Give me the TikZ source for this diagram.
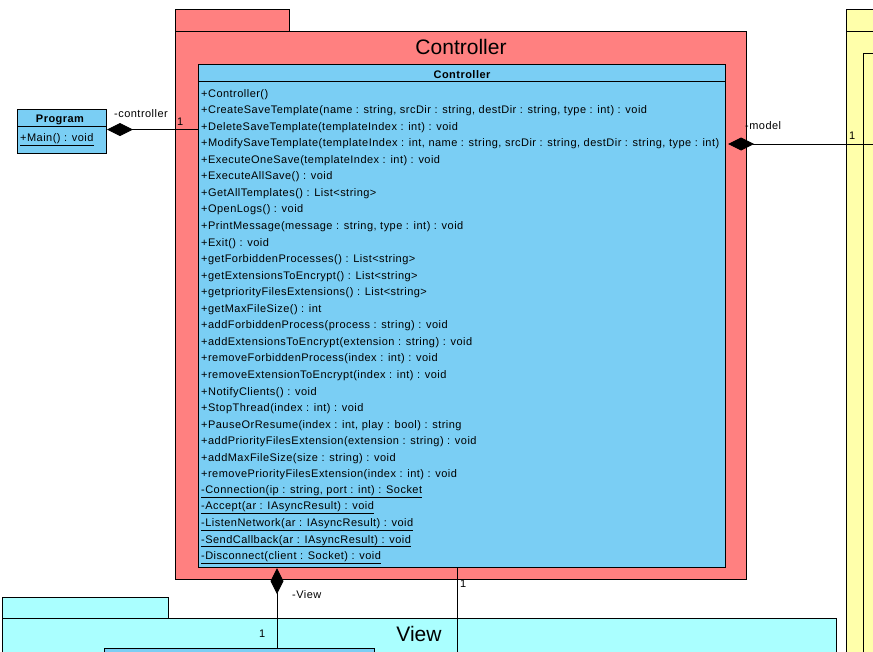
\documentclass[tikz,border=0pt]{standalone}
\usepackage{fontspec}
\setmainfont{Liberation Sans}
\newfontfamily\smallfont[LetterSpace=4.3]{Liberation Sans}
\usetikzlibrary{arrows.meta}
\definecolor{salmon}{HTML}{FF8080}
\definecolor{clsblue}{HTML}{7ACEF4}
\definecolor{viewcyan}{HTML}{AAFFFF}
\definecolor{modelyel}{HTML}{FFFFAA}
\tikzset{
  box/.style={draw=black, line width=1pt, inner sep=0pt, anchor=north west},
  meth/.style={anchor=west, inner sep=0pt, yshift=-2.3pt, font=\smallfont\fontsize{11}{13}\selectfont},
  lbl/.style={anchor=west, inner sep=0pt, yshift=-1.5pt, font=\smallfont\fontsize{11}{13}\selectfont},
  ptitle/.style={inner sep=0pt, font=\fontsize{21}{24}\selectfont},
  ctitle/.style={inner sep=0pt, yshift=-1.5pt, font=\smallfont\fontsize{11}{13}\selectfont\bfseries},
  comp/.style={draw=black, line width=1pt, {Diamond[length=26pt,width=13pt]}-},
  plain/.style={draw=black, line width=1pt}
}
\begin{document}
\begin{tikzpicture}[x=1pt,y=-1pt]
\useasboundingbox (0,0) rectangle (873,651);
\clip (0,0) rectangle (873,651);
\fill[white] (0,0) rectangle (873,651);
% Model package (right, yellow)
\node[box, fill=modelyel, minimum width=60pt, minimum height=22pt] (modeltab) at (846,9) {};
\node[box, fill=modelyel, minimum width=60pt, minimum height=700pt] (modelpkg) at (846,31) {};
\node[box, fill=modelyel, minimum width=60pt, minimum height=700pt] (modelcls) at (863,53) {};
% Controller package
\node[box, fill=salmon, minimum width=114pt, minimum height=22pt] (ctrltab) at (175,9) {};
\node[box, fill=salmon, minimum width=571pt, minimum height=548pt] (ctrlpkg) at (175,31) {};
\node[ptitle] (ctrlptitle) at (461,47) {Controller};
% Controller class
\node[box, fill=clsblue, minimum width=527pt, minimum height=503pt] (ctrlcls) at (198,64) {};
\draw[plain] (198,81) -- (725,81);
\node[ctitle] (ctrlctitle) at (462,73) {Controller};
\node[meth] (m1) at (201,92) {+Controller()};
\node[meth] (m2) at (201,108.55) {+CreateSaveTemplate(name : string, srcDir : string, destDir : string, type : int) : void};
\node[meth] (m3) at (201,125.1) {+DeleteSaveTemplate(templateIndex : int) : void};
\node[meth] (m4) at (201,141.65) {+ModifySaveTemplate(templateIndex : int, name : string, srcDir : string, destDir : string, type : int)};
\node[meth] (m5) at (201,158.2) {+ExecuteOneSave(templateIndex : int) : void};
\node[meth] (m6) at (201,174.75) {+ExecuteAllSave() : void};
\node[meth] (m7) at (201,191.3) {+GetAllTemplates() : List<string>};
\node[meth] (m8) at (201,207.85) {+OpenLogs() : void};
\node[meth] (m9) at (201,224.4) {+PrintMessage(message : string, type : int) : void};
\node[meth] (m10) at (201,240.95) {+Exit() : void};
\node[meth] (m11) at (201,257.5) {+getForbiddenProcesses() : List<string>};
\node[meth] (m12) at (201,274.05) {+getExtensionsToEncrypt() : List<string>};
\node[meth] (m13) at (201,290.6) {+getpriorityFilesExtensions() : List<string>};
\node[meth] (m14) at (201,307.15) {+getMaxFileSize() : int};
\node[meth] (m15) at (201,323.7) {+addForbiddenProcess(process : string) : void};
\node[meth] (m16) at (201,340.25) {+addExtensionsToEncrypt(extension : string) : void};
\node[meth] (m17) at (201,356.8) {+removeForbiddenProcess(index : int) : void};
\node[meth] (m18) at (201,373.35) {+removeExtensionToEncrypt(index : int) : void};
\node[meth] (m19) at (201,389.9) {+NotifyClients() : void};
\node[meth] (m20) at (201,406.45) {+StopThread(index : int) : void};
\node[meth] (m21) at (201,423) {+PauseOrResume(index : int, play : bool) : string};
\node[meth] (m22) at (201,439.55) {+addPriorityFilesExtension(extension : string) : void};
\node[meth] (m23) at (201,456.1) {+addMaxFileSize(size : string) : void};
\node[meth] (m24) at (201,472.65) {+removePriorityFilesExtension(index : int) : void};
\node[meth] (m25) at (201,489.2) {\underline{-Connection(ip : string, port : int) : Socket}};
\node[meth] (m26) at (201,505.75) {\underline{-Accept(ar : IAsyncResult) : void}};
\node[meth] (m27) at (201,522.3) {\underline{-ListenNetwork(ar : IAsyncResult) : void}};
\node[meth] (m28) at (201,538.85) {\underline{-SendCallback(ar : IAsyncResult) : void}};
\node[meth] (m29) at (201,555.4) {\underline{-Disconnect(client : Socket) : void}};
% Program class
\node[box, fill=clsblue, minimum width=89pt, minimum height=44pt] (prog) at (17,109) {};
\draw[plain] (17,126) -- (106,126);
\node[ctitle] (progtitle) at (60,118) {Program};
\node[meth] (pm1) at (20,137) {\underline{+Main() : void}};
% View package
\node[box, fill=viewcyan, minimum width=166pt, minimum height=21pt] (viewtab) at (2,597) {};
\node[box, fill=viewcyan, minimum width=834pt, minimum height=100pt] (viewpkg) at (2,618) {};
\node[ptitle] (viewptitle) at (419,634) {View};
\node[box, fill=clsblue, minimum width=270pt, minimum height=60pt] (viewcls) at (104,648) {};
% connector end points
\coordinate (viewend) at (277,648);
\coordinate (modelend) at (873,144);
\coordinate (otherend) at (457,660);
% connectors
\draw[comp] ([yshift=2pt]prog.east) -- ([yshift=2pt]prog.east -| ctrlcls.west);
\node[lbl] (lctrl) at (114,112) {-controller};
\node[lbl] (lctrl1) at (177,120) {1};
\draw[comp] ([xshift=2pt]ctrlcls.east |- modelend) -- (modelend);
\node[lbl] (lmodel) at (745,124) {-model};
\node[lbl] (lmodel1) at (849,134) {1};
\draw[comp] (ctrlcls.south -| viewend) -- (viewend);
\node[lbl] (lview) at (292,593) {-View};
\node[lbl] (lview1) at (259,632) {1};
\draw[plain] (ctrlcls.south -| otherend) -- (otherend);
\node[lbl] (lother1) at (460,582) {1};
\end{tikzpicture}
\end{document}
